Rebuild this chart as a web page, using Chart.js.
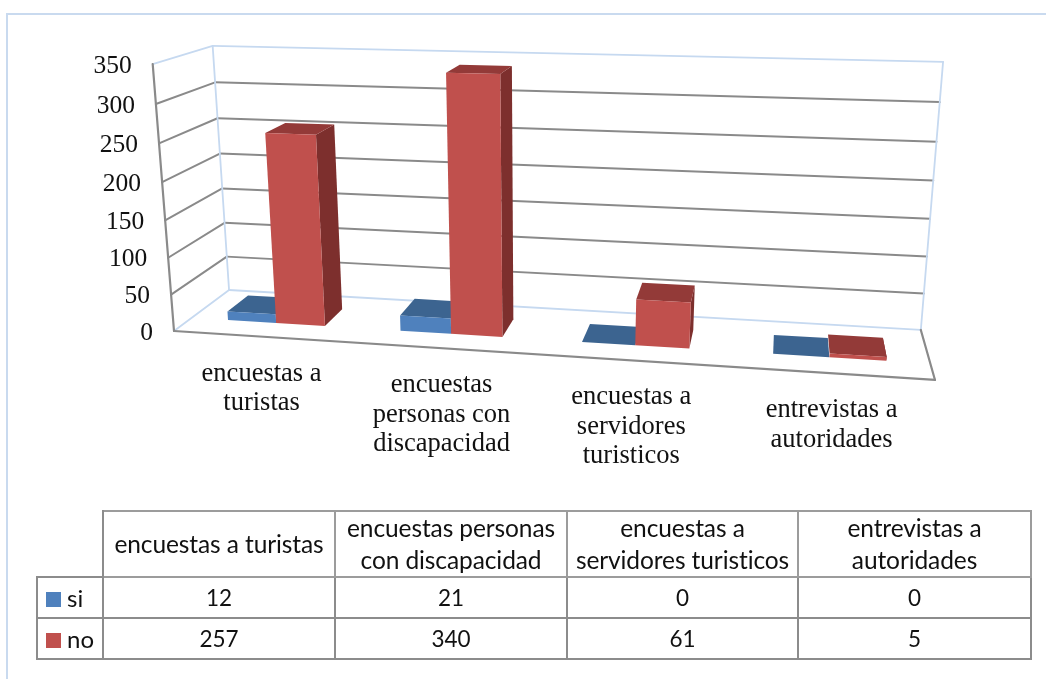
<!DOCTYPE html>
<html lang="es">
<head>
<meta charset="utf-8">
<title>Encuestas y entrevistas</title>
<script src="https://cdn.jsdelivr.net/npm/chart.js@4"></script>
<style>
    html, body { margin: 0; padding: 0; background: #fff; }
    #lienzo { position: absolute; left: 0; top: 0; }
    #marco { position: absolute; left: 6px; top: 13px; right: 0; bottom: 0; border-left: 2px solid #c9daef; border-top: 2px solid #c9daef; }
    #tabla {
        position: absolute; left: 36px; top: 510px; width: 994px;
        table-layout: fixed; border-collapse: collapse;
        font-family: Lato, sans-serif; font-size: 22.5px; color: #111; text-align: center;
    }
    #tabla td, #tabla th { border: 2px solid #8c8c8c; padding: 0; font-weight: normal; white-space: nowrap; height: 39px; }
    #tabla thead th { height: 63px; line-height: 32px; border-color: #9c9c9c; font-size: 24.5px; letter-spacing: -0.1px; }
    #tabla thead th:first-child { border: none; border-bottom: 2px solid #8c8c8c; border-right: 2px solid #8c8c8c; }
    #tabla td:first-child { text-align: left; padding-left: 8px; font-size: 24px; }
    .muestra { display: inline-block; width: 15px; height: 15px; margin-right: 6px; }
</style>
</head>
<body>
<div id="marco"></div>
<canvas id="lienzo" width="1046" height="679"></canvas>
<table id="tabla"></table>
<script>
// Datos del grafico
const categorias = ['encuestas a turistas', 'encuestas personas con discapacidad', 'encuestas a servidores turisticos', 'entrevistas a autoridades'];
const etiquetasEje = [['encuestas a', 'turistas'], ['encuestas', 'personas con', 'discapacidad'], ['encuestas a', 'servidores', 'turisticos'], ['entrevistas a', 'autoridades']];
const encabezadosTabla = [['encuestas a turistas'], ['encuestas personas', 'con discapacidad'], ['encuestas a', 'servidores turisticos'], ['entrevistas a', 'autoridades']];
const valoresSi = [12, 21, 0, 0];
const valoresNo = [257, 340, 61, 5];
const nombresSeries = ['si', 'no'];
const coloresFrente = ['#4f81bd', '#c0504d'];
const coloresArriba = ['#3c6490', '#933a38'];
const coloresLado = ['#2f4f73', '#7d2f2d'];

// Perspectiva: u = eje categorias, v = eje valores, w = profundidad (todo de 0 a 1)
function proyectar(u, v, w) {
    const d = 1 - 0.1015 * u - 0.055 * v + 0.098 * w;
    return [(174 + 666.1 * u - 29.7 * v + 77.5 * w) / d, (331 + 10.4 * u - 270.5 * v - 12.6 * w) / d];
}

const FONDO_BARRA = 0.305;
const TOPE_BARRA = 0.70;

function linea(ctx, a, b, color, grosor) {
    ctx.beginPath();
    ctx.moveTo(a[0], a[1]);
    ctx.lineTo(b[0], b[1]);
    ctx.strokeStyle = color;
    ctx.lineWidth = grosor;
    ctx.stroke();
}

function cara(ctx, puntos, color) {
    ctx.beginPath();
    puntos.forEach((p, i) => i ? ctx.lineTo(p[0], p[1]) : ctx.moveTo(p[0], p[1]));
    ctx.closePath();
    ctx.fillStyle = color;
    ctx.fill();
}

const plano3d = {
    id: 'plano3d',
    // paredes, lineas de division y textos de los ejes
    beforeDatasetsDraw(chart) {
        const { ctx, scales, chartArea } = chart;
        const gris = '#8a8a8a';
        const azul = '#c6d9f0';
        const aV = valor => (chartArea.bottom - scales.y.getPixelForValue(valor)) / chartArea.height;
        ctx.save();
        ctx.lineCap = 'round';
        scales.y.ticks.forEach(tick => {
            const v = aV(tick.value);
            const extremo = tick.value === 0 || tick.value === scales.y.max;
            const color = extremo ? azul : gris;
            linea(ctx, proyectar(0, v, 0), proyectar(0, v, 1), color, extremo ? 1.8 : 2);
            linea(ctx, proyectar(0, v, 1), proyectar(1, v, 1), color, extremo ? 1.8 : 2);
        });
        linea(ctx, proyectar(0, 0, 1), proyectar(0, 1, 1), azul, 1.8);
        linea(ctx, proyectar(1, 0, 1), proyectar(1, 1, 1), azul, 1.8);
        linea(ctx, proyectar(0, 0, 0), proyectar(0, 1, 0), gris, 2.2);
        linea(ctx, proyectar(0, 0, 0), proyectar(1, 0, 0), gris, 2.2);
        linea(ctx, proyectar(1, 0, 0), proyectar(1, 0, 1), gris, 2.2);

        ctx.fillStyle = '#111';
        ctx.font = '25.5px "Liberation Serif"';
        ctx.textBaseline = 'middle';
        ctx.textAlign = 'right';
        scales.y.ticks.forEach(tick => {
            const p = proyectar(0, aV(tick.value), 0);
            ctx.fillText(tick.label, p[0] - 21, p[1] + 2);
        });
        ctx.font = '26.5px "Liberation Serif"';
        ctx.textAlign = 'center';
        etiquetasEje.forEach((lineas, i) => {
            const u = (scales.x.getPixelForValue(i) - chartArea.left) / chartArea.width;
            const p = proyectar(u, 0, 0);
            lineas.forEach((texto, n) => ctx.fillText(texto, p[0] + 1, p[1] + 37 + n * 29.5));
        });
        ctx.restore();
    },
    // las barras planas no se pintan, se pintan abajo en 3d
    beforeDatasetDraw() {
        return false;
    },
    afterDatasetsDraw(chart) {
        const { ctx, chartArea } = chart;
        categorias.forEach((c, i) => {
            chart.data.datasets.forEach((ds, s) => {
                const barra = chart.getDatasetMeta(s).data[i];
                const u0 = (barra.x - barra.width / 2 - chartArea.left) / chartArea.width;
                const u1 = (barra.x + barra.width / 2 - chartArea.left) / chartArea.width;
                const v0 = (chartArea.bottom - barra.base) / chartArea.height;
                const v1 = (chartArea.bottom - barra.y) / chartArea.height;
                const w0 = FONDO_BARRA, w1 = TOPE_BARRA;
                cara(ctx, [proyectar(u1, v0, w0), proyectar(u1, v0, w1), proyectar(u1, v1, w1), proyectar(u1, v1, w0)], coloresLado[s]);
                cara(ctx, [proyectar(u0, v1, w0), proyectar(u1, v1, w0), proyectar(u1, v1, w1), proyectar(u0, v1, w1)], coloresArriba[s]);
                cara(ctx, [proyectar(u0, v0, w0), proyectar(u1, v0, w0), proyectar(u1, v1, w0), proyectar(u0, v1, w0)], coloresFrente[s]);
            });
        });
    }
};

new Chart(document.getElementById('lienzo'), {
    type: 'bar',
    data: {
        labels: categorias,
        datasets: [
            { label: nombresSeries[0], data: valoresSi, backgroundColor: coloresFrente[0], categoryPercentage: 0.568, barPercentage: 1 },
            { label: nombresSeries[1], data: valoresNo, backgroundColor: coloresFrente[1], categoryPercentage: 0.568, barPercentage: 1 }
        ]
    },
    options: {
        responsive: false,
        animation: false,
        layout: { padding: 0 },
        plugins: { legend: { display: false }, tooltip: { enabled: false } },
        scales: {
            x: { display: false },
            y: { display: false, min: 0, max: 350, ticks: { stepSize: 50 } }
        }
    },
    plugins: [plano3d]
});

// Tabla de datos debajo del grafico
let filas = '<colgroup><col style="width:66px"><col style="width:232px"><col style="width:232px"><col style="width:231px"><col style="width:233px"></colgroup>';
filas += '<thead><tr><th></th>' + encabezadosTabla.map(e => '<th>' + e.join('<br>') + '</th>').join('') + '</tr></thead><tbody>';
[valoresSi, valoresNo].forEach((valores, s) => {
    filas += '<tr><td><span class="muestra" style="background:' + coloresFrente[s] + '"></span>' + nombresSeries[s] + '</td>';
    filas += valores.map(v => '<td>' + v + '</td>').join('') + '</tr>';
});
document.getElementById('tabla').innerHTML = filas + '</tbody>';
</script>
</body>
</html>
